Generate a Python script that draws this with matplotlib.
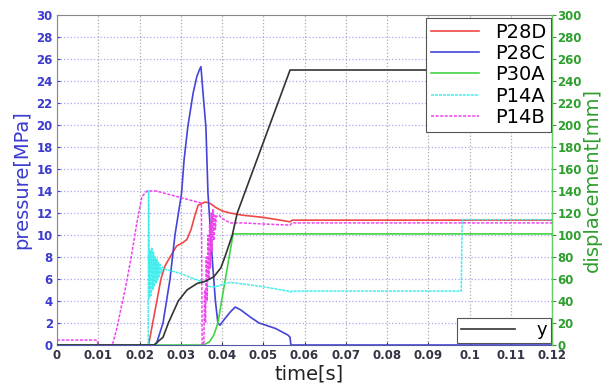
import matplotlib
matplotlib.use('Agg')
import matplotlib.pyplot as plt

# P28D (red)
t_p28d = [0, 0.0222, 0.0242, 0.0252, 0.0262, 0.0274, 0.0290, 0.0305, 0.0315, 0.0325, 0.0333,
          0.0342, 0.0359, 0.0370, 0.0385, 0.0400, 0.0419, 0.0450, 0.0500, 0.0565, 0.0570, 0.0980, 0.12]
v_p28d = [0, 0, 4.0, 6.0, 7.2, 8.0, 9.0, 9.3, 9.6, 10.5, 11.6,
          12.7, 13.0, 12.9, 12.5, 12.2, 12.0, 11.8, 11.6, 11.2, 11.35, 11.35, 11.35]

# P28C (blue)
t_p28c = [0, 0.0240, 0.0257, 0.0274, 0.0286, 0.0302, 0.0308, 0.0317, 0.0330, 0.0339, 0.0345,
          0.0349, 0.0354, 0.0361, 0.0366, 0.0376, 0.0384, 0.0390, 0.0395, 0.0405, 0.0420,
          0.0432, 0.0445, 0.0470, 0.0490, 0.0530, 0.0560, 0.0565, 0.0567, 0.12]
v_p28c = [0, 0, 2.0, 6.0, 10.0, 13.8, 16.8, 19.8, 22.9, 24.4, 25.0,
          25.3, 22.9, 19.8, 13.8, 8.0, 4.0, 2.0, 1.8, 2.3, 3.0,
          3.45, 3.2, 2.5, 2.0, 1.5, 0.9, 0.7, 0, 0]

# P30A (green)
t_p30a = [0, 0.0355, 0.0370, 0.0380, 0.0390, 0.0400, 0.0410, 0.0420, 0.0427, 0.12]
v_p30a = [0, 0, 0.3, 0.9, 2.0, 4.2, 6.4, 8.6, 10.1, 10.1]

# P14A (cyan)
t_p14a = [0, 0.0221, 0.0222, 0.0224, 0.0226, 0.0228, 0.0230, 0.0232, 0.0234, 0.0236, 0.0238,
          0.0240, 0.0242, 0.0244, 0.0246, 0.0248, 0.0250, 0.0253, 0.0256, 0.0260, 0.0270,
          0.0280, 0.0300, 0.0320, 0.0340, 0.0355, 0.0370, 0.0385, 0.0400, 0.0420, 0.0460,
          0.0500, 0.0530, 0.0560, 0.0565, 0.0570, 0.0980, 0.0982, 0.12]
v_p14a = [0, 0, 14.0, 4.2, 8.6, 4.5, 8.8, 5.0, 8.4, 5.3, 8.0,
          5.6, 7.8, 5.9, 7.5, 6.2, 7.3, 6.5, 7.1, 6.9, 6.8,
          6.7, 6.5, 6.2, 5.9, 5.7, 5.3, 5.3, 5.5, 5.7, 5.5,
          5.3, 5.1, 4.9, 4.8, 4.9, 4.9, 11.4, 11.4]

# P14B (magenta)
t_p14b = [0, 0.0097, 0.0100, 0.0128, 0.0135, 0.0145, 0.0155, 0.0165, 0.0180, 0.0193, 0.0206,
          0.0218, 0.0240, 0.0270, 0.0300, 0.0330, 0.0350, 0.0352, 0.0356, 0.0358, 0.0360,
          0.0362, 0.0364, 0.0366, 0.0368, 0.0370, 0.0372, 0.0374, 0.0376, 0.0378, 0.0380,
          0.0382, 0.0384, 0.0386, 0.0393, 0.0400, 0.0420, 0.0450, 0.0500, 0.0565, 0.0570, 0.12]
v_p14b = [0.45, 0.45, 0, 0, 0.1, 1.5, 3.3, 5.0, 8.0, 11.0, 13.5,
          14.0, 14.0, 13.7, 13.4, 13.1, 12.9, 0, 0.2, 5.0, 2.0,
          8.0, 4.0, 10.0, 6.0, 11.0, 7.0, 12.0, 8.5, 12.3, 9.5,
          11.8, 10.5, 11.7, 11.8, 11.5, 11.1, 11.1, 11.0, 10.9, 11.1, 11.1]

# y displacement (black)
t_y = [0, 0.0235, 0.0257, 0.0270, 0.0294, 0.0315, 0.0340, 0.0360, 0.0380, 0.0397, 0.0407,
       0.0425, 0.0437, 0.0565, 0.12]
v_y = [0, 0, 7, 20, 40, 50, 56, 58, 62, 70, 80,
       100, 120, 250, 250]

xticks = [0, 0.01, 0.02, 0.03, 0.04, 0.05, 0.06, 0.07, 0.08, 0.09, 0.1, 0.11, 0.12]
xtick_labels = ['0', '0.01', '0.02', '0.03', '0.04', '0.05', '0.06', '0.07', '0.08', '0.09', '0.1', '0.11', '0.12']

fig = plt.figure(figsize=(6.15, 3.85), dpi=100)
ax = fig.add_axes([57 / 615, 40 / 385, 495 / 615, 330 / 385])
ax2 = ax.twinx()

blue_txt = '#3b3bd0'
green_txt = '#2e9e2e'

# grid
for x in xticks:
    ax.axvline(x, color='#aaaaaa', linestyle=':', linewidth=0.9, zorder=0)
for yv in range(2, 30, 2):
    ax.axhline(yv, color='#a8a8f0', linestyle=':', linewidth=0.9, zorder=0)

ax.plot(t_p28d, v_p28d, color='#f04848', lw=1.2, label='P28D')
ax.plot(t_p28c, v_p28c, color='#4444d8', lw=1.2, label='P28C')
ax.plot(t_p30a, v_p30a, color='#44d444', lw=1.2, label='P30A')
ax.plot(t_p14a, v_p14a, color='#44eeee', lw=1.1, linestyle=(0, (2, 0.6)), label='P14A')
ax.plot(t_p14b, v_p14b, color='#ee44ee', lw=1.1, linestyle=(0, (2, 1)), label='P14B')

ax2.plot(t_y, v_y, color='#333333', lw=1.2, label='y')

ax.set_xlim(0, 0.12)
ax.set_ylim(0, 30)
ax2.set_ylim(0, 300)

ax.set_xticks(xticks)
ax.set_xticklabels(xtick_labels)
ax.set_yticks(range(0, 31, 2))
ax2.set_yticks(range(0, 301, 20))

ax.tick_params(axis='x', colors='#333344', labelsize=8.5, direction='in', length=2, pad=3)
ax.tick_params(axis='y', colors=blue_txt, labelsize=8.5, direction='in', length=2, pad=3)
ax2.tick_params(axis='y', colors=green_txt, labelsize=8.5, direction='out', length=3, pad=1)
for lab in ax.get_xticklabels() + ax.get_yticklabels() + ax2.get_yticklabels():
    lab.set_fontweight('bold')

ax.set_xlabel('time[s]', fontsize=14, color='#222222')
ax.set_ylabel('pressure[MPa]', fontsize=14, color=blue_txt)
ax2.set_ylabel('displacement[mm]', fontsize=14, color=green_txt)
ax.xaxis.set_label_coords(0.51, -0.058)
ax.yaxis.set_label_coords(-0.052, 0.5)
ax2.yaxis.set_label_coords(1.063, 0.5)

for s in ['top', 'left']:
    ax.spines[s].set_color('#888888')
ax.spines['bottom'].set_color('#5555aa')
ax2.spines['right'].set_color('#66cc66')
ax2.spines['top'].set_visible(False)
ax2.spines['left'].set_visible(False)
ax2.spines['bottom'].set_visible(False)

h1, l1 = ax.get_legend_handles_labels()
leg1 = ax2.legend(h1, l1, loc='upper right', bbox_to_anchor=(0.998, 0.992), fontsize=14,
                  labelspacing=0.12, handlelength=2.5, handletextpad=0.8, borderaxespad=0,
                  fancybox=False, edgecolor='#555555', framealpha=1, borderpad=0.25)
leg1.get_frame().set_linewidth(0.8)
ax2.add_artist(leg1)
h2, l2 = ax2.get_legend_handles_labels()
leg2 = ax2.legend(h2, l2, loc='lower right', bbox_to_anchor=(0.998, 0.006), fontsize=13,
                  handlelength=3.0, handletextpad=1.2, borderaxespad=0, fancybox=False,
                  edgecolor='#555555', framealpha=1, borderpad=0.2)
leg2.get_frame().set_linewidth(0.8)

plt.savefig('out.png', dpi=100)
